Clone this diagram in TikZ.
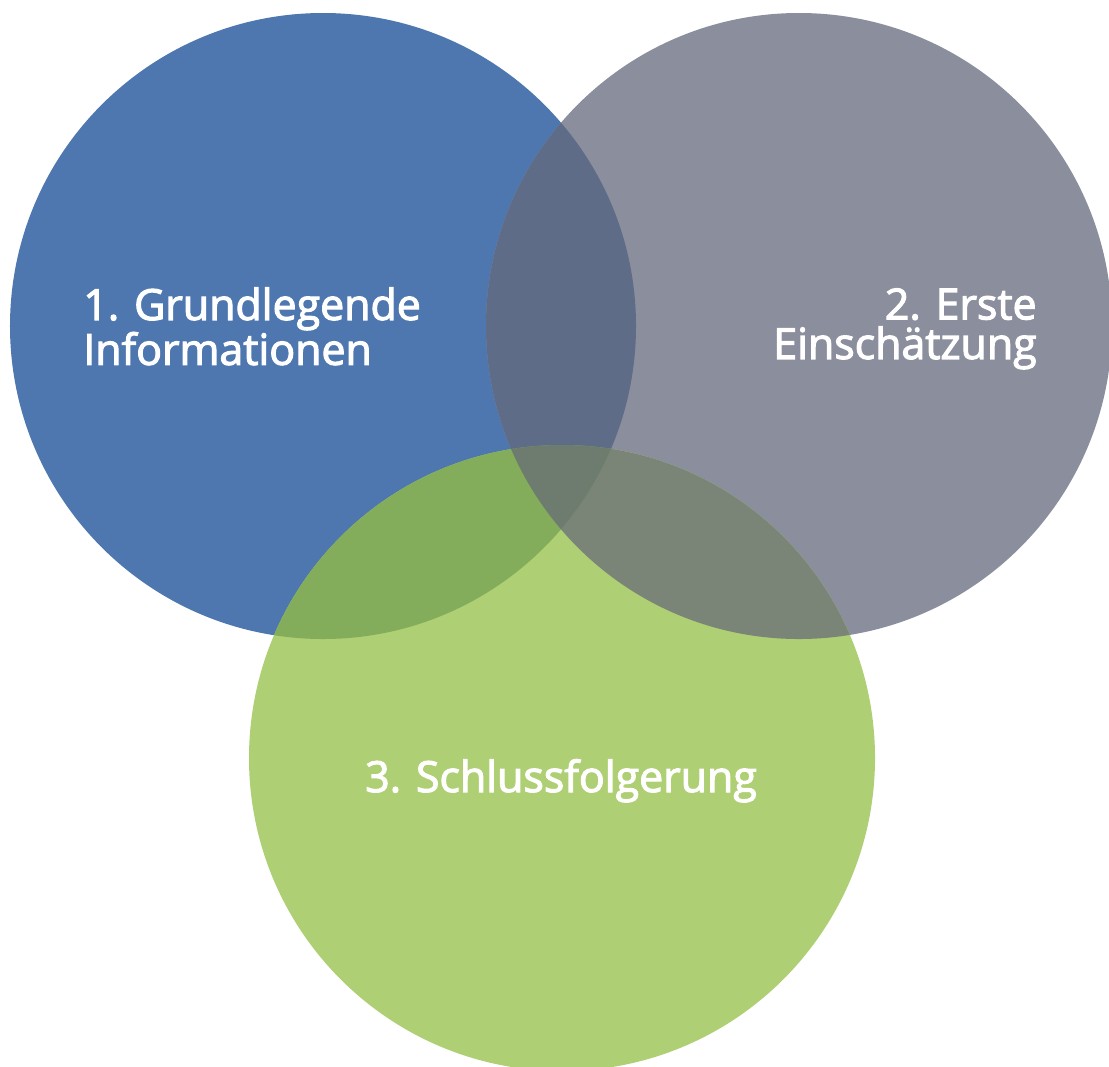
\documentclass[tikz,border=0pt]{standalone}
\usepackage{fontspec}
\setmainfont{Open Sans}
\newfontfamily\vennfont{Open Sans}[FakeBold=2.6]
\definecolor{infoblue}{HTML}{4E77AF}
\definecolor{schaetzgray}{HTML}{8B8E9C}
\definecolor{schlussgreen}{HTML}{AECF73}
\definecolor{bluegray}{HTML}{5F6C87}
\definecolor{bluegreen}{HTML}{83AD5A}
\definecolor{graygreen}{HTML}{7A8578}
\definecolor{allthree}{HTML}{6E7C6F}
\begin{document}
\begin{tikzpicture}[x=0.2mm,y=-0.2mm,
        venn/.style={circle,inner sep=0pt,minimum size=125.2mm},
        vennlabel/.style={text=white,inner sep=0pt,font=\vennfont\fontsize{24.4}{22.5}\selectfont}]
    \useasboundingbox (0,0) rectangle (1109,1066);
    \clip (0,0) rectangle (1109,1066);
    \node[venn,fill=infoblue](info) at (323,326){};
    \node[venn,fill=schaetzgray](schaetz) at (799,326){};
    \node[venn,fill=schlussgreen](schluss) at (562,758){};
    % overlaps
    \begin{scope}
        \clip (schaetz.center) circle[radius=62.6mm];
        \fill[graygreen] (schluss.center) circle[radius=62.6mm];
    \end{scope}
    \begin{scope}
        \clip (info.center) circle[radius=62.6mm];
        \fill[bluegray] (schaetz.center) circle[radius=62.6mm];
        \fill[bluegreen] (schluss.center) circle[radius=62.6mm];
        \clip (schaetz.center) circle[radius=62.6mm];
        \fill[allthree] (schluss.center) circle[radius=62.6mm];
    \end{scope}
    % labels
    \node[vennlabel,anchor=north west,align=left](grund) at (83,287){1. Grundlegende\\Informationen};
    \node[vennlabel,anchor=north east,align=right](erste) at (1037,288){2. Erste\\Einschätzung};
    \node[vennlabel,anchor=base](folgerung) at (561,792){3. Schlussfolgerung};
\end{tikzpicture}
\end{document}
